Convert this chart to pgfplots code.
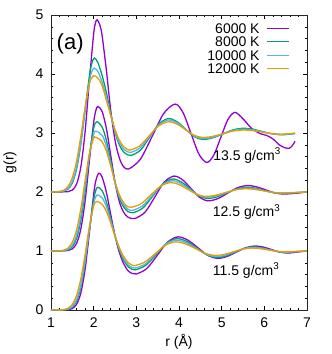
\documentclass[border=0pt]{standalone}
\usepackage{fontspec}
\setmainfont{Liberation Sans}
\usepackage{pgfplots}
\pgfplotsset{compat=1.18}
\definecolor{cP}{HTML}{9400D3}
\definecolor{cG}{HTML}{009E73}
\definecolor{cB}{HTML}{56B4E9}
\definecolor{cO}{HTML}{E69F00}
\begin{document}
\begin{tikzpicture}
\begin{axis}[
 scale only axis, width=256pt, height=295pt,
 xmin=1, xmax=7, ymin=0, ymax=5,
 xtick={1,2,3,4,5,6,7}, ytick={0,1,2,3,4,5},
 minor x tick num=4, minor y tick num=4,
 major tick length=4pt, minor tick length=2pt,
 tick style={black, line width=0.5pt},
 axis line style={line width=0.8pt, black!85},
 /pgf/number format/assume math mode=true,
 ticklabel style={font=\fontsize{14}{16}\selectfont},
 xticklabel style={yshift=-4pt},
 yticklabel style={xshift=-4pt},
 label style={font=\fontsize{14}{16}\selectfont},
 xlabel={r (Å)}, ylabel={g(r)},
 xlabel style={at={(axis description cs:0.5,-0.125)}, anchor=base},
 ylabel style={at={(axis description cs:-0.16,0.5)}, anchor=center},
 legend style={at={(axis description cs:0.934,0.976)}, anchor=north east, draw=none, fill=none,
   inner sep=0pt, font=\fontsize{14}{14}\selectfont, row sep=1.5pt, column sep=6pt,
   nodes={inner sep=1pt, text height=10pt, text depth=0pt}},
 legend plot pos=right,
 legend cell align=right,
 legend image code/.code={\draw[#1, line width=1.3pt] (0pt,0pt) -- (22pt,0pt);},
 every axis plot/.append style={line width=1.3pt, smooth},
]
% ---- 13.5 g/cm3 (offset 2) ----
\addplot[cP] coordinates {(1.0,2) (1.4,2.006) (1.5,2.033) (1.6,2.135) (1.7,2.426) (1.8,3.027) (1.9,3.895) (2.0,4.68) (2.04,4.86) (2.08,4.92) (2.15,4.82) (2.2,4.64) (2.3,4.05) (2.4,3.38) (2.5,2.88) (2.6,2.58) (2.7,2.43) (2.82,2.39) (3.09,2.551) (3.37,2.94) (3.64,3.329) (3.91,3.49) (4.095,3.345) (4.28,2.995) (4.465,2.645) (4.65,2.5) (4.815,2.624) (4.98,2.925) (5.145,3.226) (5.31,3.35) (5.5,3.24) (5.7,3.08) (5.9,2.99) (6.05,2.96) (6.2,2.9) (6.35,2.8) (6.5,2.745) (6.58,2.74) (6.65,2.78) (6.72,2.86)};
\addlegendentry{6000 K}
\addplot[cG] coordinates {(1.0,2) (1.3,2.013) (1.4,2.049) (1.5,2.152) (1.6,2.389) (1.7,2.815) (1.8,3.399) (1.9,3.966) (1.96,4.19) (2.02,4.27) (2.1,4.19) (2.2,3.97) (2.3,3.68) (2.4,3.33) (2.5,3.02) (2.6,2.8) (2.7,2.68) (2.8,2.63) (2.88,2.62) (3.1,2.711) (3.315,2.933) (3.53,3.154) (3.75,3.245) (3.95,3.193) (4.15,3.068) (4.35,2.942) (4.55,2.89) (4.79,2.918) (5.03,2.985) (5.26,3.052) (5.5,3.08) (5.73,3.064) (5.95,3.025) (6.18,2.986) (6.4,2.97) (6.6,2.98) (6.72,2.99)};
\addlegendentry{8000 K}
\addplot[cB] coordinates {(1.0,2) (1.3,2.017) (1.4,2.061) (1.5,2.176) (1.6,2.424) (1.7,2.841) (1.8,3.38) (1.9,3.872) (1.95,4.029) (2.01,4.1) (2.1,4.04) (2.2,3.86) (2.3,3.6) (2.4,3.3) (2.5,3.03) (2.6,2.84) (2.7,2.73) (2.8,2.68) (2.87,2.67) (3.09,2.75) (3.31,2.945) (3.53,3.14) (3.75,3.22) (3.95,3.174) (4.15,3.063) (4.35,2.951) (4.55,2.905) (4.79,2.928) (5.03,2.985) (5.26,3.042) (5.5,3.065) (5.73,3.052) (5.95,3.02) (6.18,2.988) (6.4,2.975) (6.6,2.985) (6.72,2.995)};
\addlegendentry{10000 K}
\addplot[cO] coordinates {(1.0,2) (1.2,2.004) (1.3,2.031) (1.4,2.096) (1.5,2.244) (1.6,2.525) (1.7,2.948) (1.8,3.439) (1.9,3.836) (1.99,3.97) (2.1,3.93) (2.2,3.8) (2.3,3.55) (2.4,3.3) (2.5,3.06) (2.6,2.88) (2.7,2.77) (2.8,2.72) (2.85,2.71) (3.075,2.78) (3.3,2.95) (3.525,3.12) (3.75,3.19) (3.95,3.151) (4.15,3.058) (4.35,2.964) (4.55,2.925) (4.79,2.943) (5.03,2.988) (5.26,3.032) (5.5,3.05) (5.73,3.04) (5.95,3.015) (6.18,2.99) (6.4,2.98) (6.6,2.99) (6.72,3.0)};
\addlegendentry{12000 K}
% ---- 12.5 g/cm3 (offset 1) ----
\addplot[cP, forget plot] coordinates {(1.0,1) (1.4,1.008) (1.5,1.036) (1.6,1.129) (1.7,1.373) (1.8,1.85) (1.9,2.53) (2.0,3.18) (2.05,3.38) (2.1,3.45) (2.2,3.36) (2.3,3.07) (2.4,2.62) (2.5,2.17) (2.6,1.84) (2.7,1.66) (2.8,1.575) (2.9,1.55) (2.97,1.55) (3.2,1.655) (3.43,1.91) (3.65,2.165) (3.88,2.27) (4.08,2.209) (4.28,2.06) (4.48,1.911) (4.68,1.85) (4.91,1.888) (5.14,1.98) (5.37,2.072) (5.6,2.11) (5.81,2.089) (6.03,2.037) (6.24,1.986) (6.45,1.965) (6.75,1.98) (7.0,2.0)};
\addplot[cG, forget plot] coordinates {(1.0,1) (1.3,1.004) (1.4,1.019) (1.5,1.072) (1.6,1.214) (1.7,1.518) (1.8,2.017) (1.9,2.616) (2.0,3.08) (2.07,3.19) (2.2,3.1) (2.3,2.87) (2.4,2.53) (2.5,2.17) (2.6,1.9) (2.7,1.75) (2.8,1.67) (2.93,1.65) (3.16,1.733) (3.39,1.935) (3.62,2.137) (3.85,2.22) (4.05,2.172) (4.26,2.055) (4.46,1.938) (4.66,1.89) (4.89,1.918) (5.12,1.985) (5.35,2.052) (5.58,2.08) (5.79,2.065) (5.99,2.028) (6.2,1.99) (6.4,1.975) (6.75,1.99) (7.0,2.0)};
\addplot[cB, forget plot] coordinates {(1.0,1) (1.3,1.006) (1.4,1.03) (1.5,1.099) (1.6,1.268) (1.7,1.597) (1.8,2.087) (1.9,2.621) (2.0,2.98) (2.05,3.03) (2.2,2.96) (2.3,2.77) (2.4,2.48) (2.5,2.16) (2.6,1.93) (2.7,1.79) (2.8,1.71) (2.91,1.69) (3.14,1.763) (3.37,1.94) (3.6,2.117) (3.83,2.19) (4.03,2.149) (4.24,2.05) (4.44,1.951) (4.64,1.91) (4.87,1.933) (5.11,1.988) (5.34,2.042) (5.57,2.065) (5.78,2.053) (5.99,2.023) (6.19,1.992) (6.4,1.98) (6.75,1.99) (7.0,2.0)};
\addplot[cO, forget plot] coordinates {(1.0,1) (1.2,1.001) (1.3,1.015) (1.4,1.052) (1.5,1.15) (1.6,1.359) (1.7,1.717) (1.8,2.193) (1.9,2.655) (2.0,2.915) (2.03,2.93) (2.1,2.91) (2.2,2.85) (2.3,2.69) (2.4,2.44) (2.5,2.17) (2.6,1.96) (2.7,1.82) (2.8,1.75) (2.88,1.74) (3.11,1.801) (3.34,1.95) (3.57,2.099) (3.8,2.16) (4.0,2.126) (4.21,2.043) (4.42,1.959) (4.62,1.925) (4.85,1.944) (5.09,1.99) (5.32,2.036) (5.55,2.055) (5.76,2.045) (5.98,2.02) (6.19,1.995) (6.4,1.985) (6.75,1.993) (7.0,2.0)};
% ---- 11.5 g/cm3 (offset 0) ----
\addplot[cP, forget plot] coordinates {(1.0,0) (1.3,0) (1.4,0.005) (1.5,0.025) (1.6,0.096) (1.7,0.29) (1.8,0.695) (1.9,1.31) (2.0,1.96) (2.05,2.19) (2.12,2.32) (2.2,2.25) (2.3,1.99) (2.4,1.62) (2.5,1.26) (2.6,0.98) (2.7,0.79) (2.8,0.67) (2.9,0.62) (3.0,0.61) (3.24,0.70) (3.49,0.925) (3.73,1.148) (3.97,1.24) (4.2,1.187) (4.44,1.058) (4.67,0.928) (4.9,0.875) (5.12,0.906) (5.34,0.98) (5.56,1.054) (5.78,1.085) (5.97,1.067) (6.17,1.025) (6.36,0.983) (6.55,0.965) (6.78,0.983) (7.0,1.0)};
\addplot[cG, forget plot] coordinates {(1.0,0) (1.3,0) (1.4,0.012) (1.5,0.047) (1.6,0.15) (1.7,0.386) (1.8,0.807) (1.9,1.365) (2.0,1.87) (2.05,2.03) (2.1,2.08) (2.2,2.02) (2.3,1.83) (2.4,1.55) (2.5,1.26) (2.6,1.02) (2.7,0.85) (2.8,0.74) (2.9,0.69) (2.98,0.68) (3.22,0.757) (3.47,0.945) (3.71,1.133) (3.95,1.21) (4.18,1.163) (4.42,1.05) (4.65,0.937) (4.88,0.89) (5.1,0.916) (5.31,0.98) (5.53,1.044) (5.74,1.07) (5.93,1.056) (6.12,1.023) (6.31,0.989) (6.5,0.975) (6.75,0.99) (7.0,1.0)};
\addplot[cB, forget plot] coordinates {(1.0,0) (1.3,0.003) (1.4,0.017) (1.5,0.06) (1.6,0.177) (1.7,0.426) (1.8,0.841) (1.9,1.359) (2.0,1.8) (2.05,1.92) (2.09,1.95) (2.2,1.9) (2.3,1.75) (2.4,1.51) (2.5,1.26) (2.6,1.04) (2.7,0.88) (2.8,0.77) (2.9,0.72) (2.97,0.71) (3.21,0.779) (3.45,0.948) (3.69,1.116) (3.93,1.185) (4.16,1.144) (4.4,1.045) (4.63,0.946) (4.86,0.905) (5.08,0.928) (5.29,0.983) (5.51,1.037) (5.72,1.06) (5.92,1.048) (6.11,1.02) (6.31,0.992) (6.5,0.98) (6.75,0.99) (7.0,1.0)};
\addplot[cO, forget plot] coordinates {(1.0,0) (1.2,0) (1.3,0.008) (1.4,0.031) (1.5,0.096) (1.6,0.247) (1.7,0.53) (1.8,0.948) (1.9,1.415) (2.0,1.76) (2.07,1.84) (2.2,1.79) (2.3,1.67) (2.4,1.47) (2.5,1.25) (2.6,1.06) (2.7,0.91) (2.8,0.81) (2.9,0.76) (2.95,0.75) (3.19,0.809) (3.44,0.953) (3.68,1.096) (3.92,1.155) (4.15,1.121) (4.39,1.04) (4.62,0.959) (4.85,0.925) (5.06,0.943) (5.28,0.988) (5.49,1.032) (5.7,1.05) (5.9,1.04) (6.1,1.018) (6.3,0.995) (6.5,0.985) (6.75,0.993) (7.0,1.0)};
\node[anchor=base west, inner sep=0pt, font=\fontsize{14}{16}\selectfont] at (axis cs:4.8,2.54) {13.5 g/cm\textsuperscript{3}};
\node[anchor=base west, inner sep=0pt, font=\fontsize{14}{16}\selectfont] at (axis cs:4.79,1.58) {12.5 g/cm\textsuperscript{3}};
\node[anchor=base west, inner sep=0pt, font=\fontsize{14}{16}\selectfont] at (axis cs:4.79,0.59) {11.5 g/cm\textsuperscript{3}};
\node[anchor=base west, inner sep=0pt, font=\fontsize{22}{26}\selectfont] at (axis cs:1.13,4.42) {(a)};
\end{axis}
\pgfresetboundingbox
\path[use as bounding box] (current axis.south west) ++(-51pt,-44pt) rectangle ++(332pt,354pt);
\end{tikzpicture}
\end{document}
